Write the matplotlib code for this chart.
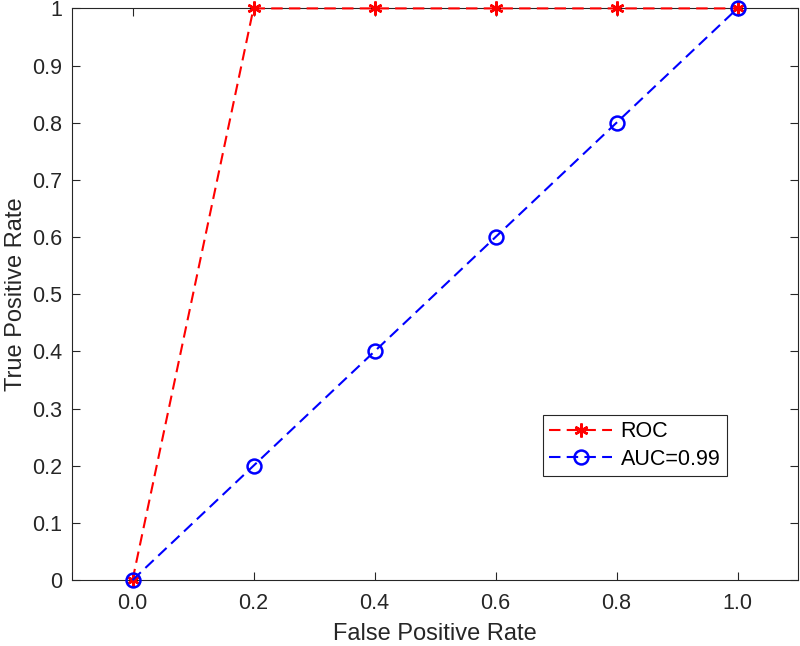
from matplotlib import pyplot as plt

# ROC data
fpr = [0.0, 0.2, 0.4, 0.6, 0.8, 1.0]
tpr = [0.0, 1.0, 1.0, 1.0, 1.0, 1.0]
diag_x = [0.0, 0.2, 0.4, 0.6, 0.8, 1.0]
diag_y = [0.0, 0.2, 0.4, 0.6, 0.8, 1.0]
xticks = [0.0, 0.2, 0.4, 0.6, 0.8, 1.0]
xtick_labels = ['0.0', '0.2', '0.4', '0.6', '0.8', '1.0']
yticks = [0, 0.1, 0.2, 0.3, 0.4, 0.5, 0.6, 0.7, 0.8, 0.9, 1]
ytick_labels = ['0', '0.1', '0.2', '0.3', '0.4', '0.5', '0.6', '0.7', '0.8', '0.9', '1']

plt.rcParams['font.family'] = ['Liberation Sans', 'DejaVu Sans']

fig = plt.figure(figsize=(8, 6.46), dpi=100)
ax = fig.add_axes([0.09, 0.102, 0.9075, 0.885])

# asterisk marker like matlab '*'
ax.plot(fpr, tpr, color='r', ls='--', dashes=(5.5, 3), marker=(6, 2, 0), linewidth=1.5,
        markersize=10, mew=1.8, label='ROC', clip_on=False, zorder=3)
ax.plot(diag_x, diag_y, color='b', ls='--', dashes=(5.5, 3), marker='o', linewidth=1.5,
        markersize=10, mfc='none', mew=1.8, label='AUC=0.99', clip_on=False, zorder=3)

ax.set_xlim(-0.1, 1.1)
ax.set_ylim(0, 1)
ax.set_xticks(xticks)
ax.set_xticklabels(xtick_labels)
ax.set_yticks(yticks)
ax.set_yticklabels(ytick_labels)
ax.tick_params(direction='in', top=True, right=True, labelsize=15.5, colors='#262626', length=6)
ax.tick_params(axis='x', pad=9)
ax.tick_params(axis='y', pad=7)
for s in ax.spines.values():
    s.set_color('#262626')
    s.set_linewidth(0.8)

ax.set_xlabel('False Positive Rate', size=17, color='#262626', labelpad=7)
ax.set_ylabel('True Positive Rate', size=17, color='#262626', labelpad=4)

leg = ax.legend(loc='upper left', bbox_to_anchor=(543 / 800, 1 - 415 / 646),
                bbox_transform=fig.transFigure, fontsize=15.5, fancybox=False,
                edgecolor='#262626', framealpha=1, handlelength=2.9, borderpad=0.3,
                labelspacing=0.3, handletextpad=0.4, borderaxespad=0)
leg.get_frame().set_linewidth(0.8)

plt.savefig('out.png')
